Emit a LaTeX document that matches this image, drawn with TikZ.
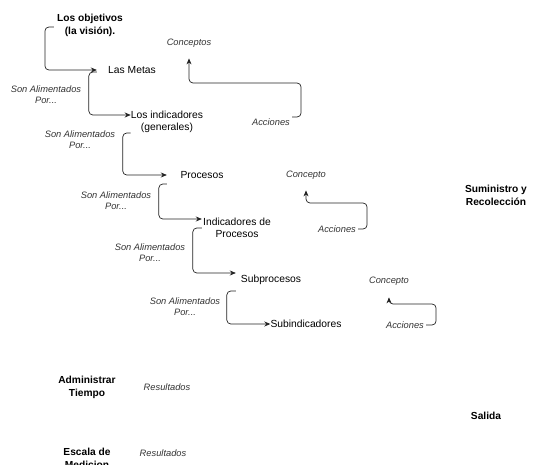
\documentclass[tikz,border=0pt]{standalone}
\usepackage{fontspec}
\setmainfont{Liberation Sans}
\usetikzlibrary{arrows.meta}
\definecolor{linea}{RGB}{34, 34, 34}
\definecolor{nota}{RGB}{51, 51, 51}

\begin{document}
\begin{tikzpicture}[x=1pt, y=-1pt,
		paso/.style={minimum width=70pt, inner sep=0pt, align=center, font=\fontsize{10.3}{12}\selectfont},
		titulo/.style={inner sep=3pt, align=center, font=\fontsize{10.2}{13}\selectfont\bfseries},
		etiqueta/.style={inner sep=2pt, align=center, text=nota, font=\fontsize{9.3}{11}\selectfont\itshape},
		flecha/.style={draw=linea, line width=0.7pt, rounded corners=4pt, -{Stealth[length=6pt, width=5pt]}}]
			\useasboundingbox (0, 0) rectangle (535, 465);
			\node[titulo] (objetivos) at (90, 25) {Los objetivos\\(la visión).};
			\node[paso] (metas) at (132, 70) {Las Metas};
			\node[paso] (indgen) at (167, 122) {Los indicadores\\(generales)};
			\node[paso] (procesos) at (202, 175) {Procesos};
			\node[paso] (indproc) at (237, 228) {Indicadores de\\Procesos};
			\node[paso] (subproc) at (271, 280) {Subprocesos};
			\node[paso] (subind) at (306, 324) {Subindicadores};
			\node[etiqueta] (alim1) at (46, 95) {Son Alimentados\\Por...};
			\node[etiqueta] (alim2) at (80, 140) {Son Alimentados\\Por...};
			\node[etiqueta] (alim3) at (116, 201) {Son Alimentados\\Por...};
			\node[etiqueta] (alim4) at (150, 253) {Son Alimentados\\Por...};
			\node[etiqueta] (alim5) at (185, 307) {Son Alimentados\\Por...};
			\node[etiqueta] (conceptos) at (189, 43) {Conceptos};
			\node[etiqueta] (acciones1) at (271, 122) {Acciones};
			\node[etiqueta] (concepto2) at (306, 175) {Concepto};
			\node[etiqueta] (acciones2) at (337, 229) {Acciones};
			\node[etiqueta] (concepto3) at (389, 281) {Concepto};
			\node[etiqueta] (acciones3) at (405, 325) {Acciones};
			\node[titulo] (suministro) at (496, 195) {Suministro y\\Recolección};
			\node[titulo] (salida) at (486, 416) {Salida};
			\node[titulo] (tiempo) at (87, 387) {Administrar\\Tiempo};
			\node[etiqueta] (result1) at (167, 387) {Resultados};
			\node[titulo] (escala) at (87, 458) {Escala de\\Medicion};
			\node[etiqueta] (result2) at (163, 453) {Resultados};
			\draw[flecha] ([yshift=-2pt]objetivos.west) -- ++(-9, 0) |- (metas.west);
			\draw[flecha] ([yshift=-2pt]metas.west) -- ++(-8, 0) |- ([yshift=7pt]indgen.west);
			\draw[flecha] ([yshift=-11pt]indgen.west) -- ++(-8, 0) |- (procesos.west);
			\draw[flecha] ([yshift=-9pt]procesos.west) -- ++(-8, 0) |- ([yshift=9pt]indproc.west);
			\draw[flecha] (indproc.west) -- ++(-9, 0) |- ([yshift=7pt]subproc.west);
			\draw[flecha] ([yshift=-11pt]subproc.west) -- ++(-9, 0) |- (subind.west);
			\draw[flecha] ([yshift=5pt]acciones1.east) -- ++(9, 0) -- ++(0, -34) -| ([yshift=-9pt]conceptos.south);
			\draw[flecha] (acciones2.east) -- ++(9, 0) -- ++(0, -26) -| ([yshift=-9pt]concepto2.south);
			\draw[flecha] (acciones3.east) -- ++(10, 0) -- ++(0, -21) -| ([yshift=-10pt]concepto3.south);
		\end{tikzpicture}
\end{document}
